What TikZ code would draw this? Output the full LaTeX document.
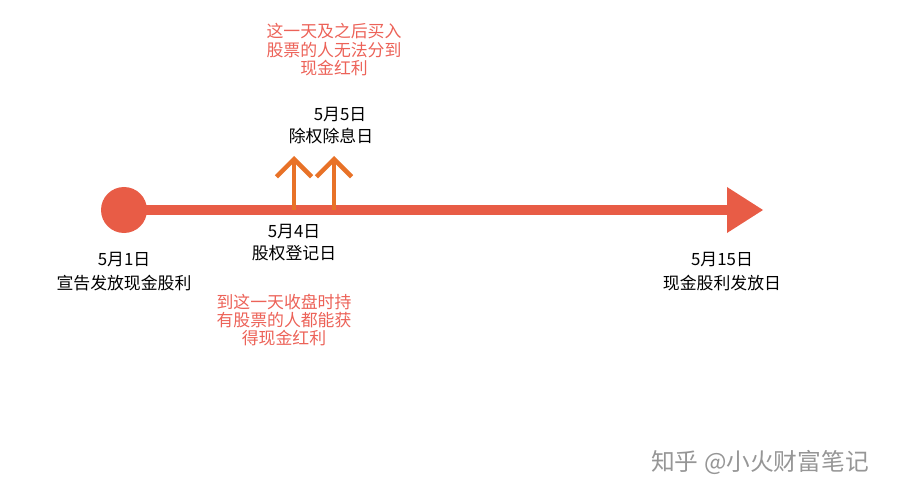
\documentclass[tikz,border=0pt]{standalone}
\usepackage{fontspec}
\setmainfont{Noto Sans CJK SC}
\usetikzlibrary{arrows.meta}

\begin{document}
\begin{tikzpicture}[x=0.02cm,y=-0.02cm]
	\tikzstyle{every node}=[font=\fontsize{9.6}{11.5}\selectfont,inner sep=0pt,align=center]
	\tikzstyle{note}=[text=noteRed]
	\tikzstyle{upline}=[draw=markOrange,line width=2.6pt,-{Straight Barb[length=10pt,width=20pt,line width=2.6pt]}]

	\definecolor{lineRed}{RGB}{232,92,70}
	\definecolor{markOrange}{RGB}{232,114,40}
	\definecolor{noteRed}{RGB}{236,98,88}
	\definecolor{markGray}{RGB}{150,150,150}

	\useasboundingbox (0,0) rectangle (900,500);

	%% timeline
	\coordinate (start) at (124,210);
	\coordinate (tip) at (763,210);
	\draw [draw=lineRed,line width=6pt] (start) -- (730,210);
	\fill [lineRed] (727,187) -- (tip) -- (727,233) -- cycle;
	\fill [lineRed] (start) circle [radius=23];

	%% marks
	\coordinate (reg) at (294,210);
	\coordinate (exd) at (334,210);
	\coordinate (regTop) at (294,156);
	\coordinate (exdTop) at (334,156);
	\draw [upline] (reg) -- (regTop);
	\draw [upline] (exd) -- (exdTop);

	%% labels
	\node (dayOne) at (124,260) {5月1日};
	\node (dayOneTxt) at (124,283) {宣告发放现金股利};
	\node (dayFour) at (294,232) {5月4日};
	\node (dayFourTxt) at (294,253) {股权登记日};
	\node [note] (noteFour) at (284,320) {到这一天收盘时持\\[-1pt]有股票的人都能获\\[-1pt]得现金红利};
	\node (dayFive) at (340,115) {5月5日};
	\node (dayFiveTxt) at (331,136) {除权除息日};
	\node [note] (noteFive) at (334,50) {这一天及之后买入\\[-1pt]股票的人无法分到\\[-1pt]现金红利};
	\node (dayFifteen) at (722,260) {5月15日};
	\node (dayFifteenTxt) at (722,283) {现金股利发放日};

	\node [text=markGray,font=\fontsize{13.5}{16}\selectfont] (mark) at (760,462) {知乎 @小火财富笔记};
\end{tikzpicture}
\end{document}
